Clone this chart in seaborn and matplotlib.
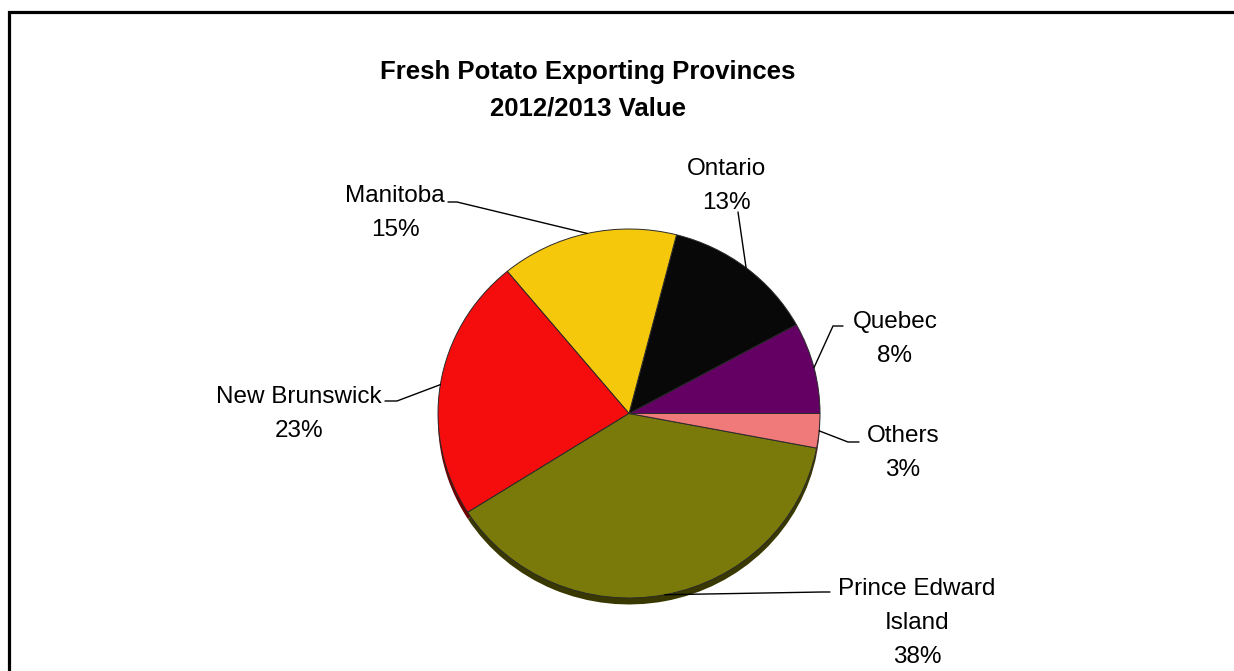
import numpy as np
import matplotlib
matplotlib.use("Agg")
import matplotlib.pyplot as plt
from matplotlib.lines import Line2D
from matplotlib.patches import Rectangle
import seaborn as sns

# ---- data ----
provinces = ["Quebec", "Ontario", "Manitoba", "New Brunswick", "Prince Edward Island", "Others"]
label_lines = [["Quebec"], ["Ontario"], ["Manitoba"], ["New Brunswick"], ["Prince Edward", "Island"], ["Others"]]
shares = [8, 13, 15, 23, 38, 3]
colors = ["#640064", "#080808", "#F5C80C", "#F50C0C", "#7A7A0A", "#F07A7A"]
shadow_colors = ["#300030", "#000000", "#6a5500", "#6a0000", "#383800", "#6a3030"]
title_lines = ["Fresh Potato Exporting Provinces", "2012/2013 Value"]

sns.set_theme(style="white")
plt.rcParams["font.family"] = ["Liberation Sans", "DejaVu Sans"]

W, H = 1234, 671
fig = plt.figure(figsize=(W / 100, H / 100), dpi=100)
fig.patch.set_facecolor("white")

def fx(x):
    return x / W

def fy(y):
    return 1 - y / H

# pie axes placed in pixel layout
left, right, top, bottom = 438, 820, 229, 598
ax = fig.add_axes([fx(left), fy(bottom), (right - left) / W, (bottom - top) / H])

# shadow layer
sh_wedges, _ = ax.pie(shares, colors=shadow_colors, startangle=0, counterclock=True,
                      center=(0, -0.035), radius=1.0,
                      wedgeprops=dict(linewidth=0))
for w in sh_wedges:
    w.set_clip_on(False)
    w.set_zorder(1)

wedges, _ = ax.pie(shares, colors=colors, startangle=0, counterclock=True,
                   radius=1.0,
                   wedgeprops=dict(edgecolor="#2a2a2a", linewidth=0.7))
for w in wedges:
    w.set_clip_on(False)
    w.set_zorder(2)

ax.set_aspect("auto")
ax.set_xlim(-1, 1)
ax.set_ylim(-1, 1)
ax.axis("off")

# title
fig.text(fx(588), fy(79), title_lines[0], ha="center", va="baseline",
         fontsize=18.5, fontweight="bold", color="black")
fig.text(fx(588), fy(115), title_lines[1], ha="center", va="baseline",
         fontsize=18.5, fontweight="bold", color="black")

# label layout: (center x, first baseline y, leader path start points in image px)
layout = {
    "Quebec": (895, 328, [(843, 326), (833, 326)]),
    "Ontario": (726, 175, [(738, 212)]),
    "Manitoba": (395, 202, [(448, 202), (457, 202)]),
    "New Brunswick": (299, 403, [(385, 401), (397, 401)]),
    "Prince Edward Island": (917, 595, [(830, 592), (822, 592)]),
    "Others": (903, 442, [(859, 442), (848, 442)]),
}
line_gap = 34

for name, lines, share, w in zip(provinces, label_lines, shares, wedges):
    cx, by, path = layout[name]
    texts = lines + [f"{share}%"]
    for i, t in enumerate(texts):
        fig.text(fx(cx), fy(by + i * line_gap), t, ha="center", va="baseline",
                 fontsize=17.5, color="black")
    mid = np.deg2rad((w.theta1 + w.theta2) / 2)
    px, py = ax.transData.transform((np.cos(mid), np.sin(mid)))
    pts = path + [(px, H - py)]
    fig.add_artist(Line2D([fx(p[0]) for p in pts], [fy(p[1]) for p in pts],
                          transform=fig.transFigure, color="black", linewidth=1.0,
                          zorder=5))

# outer frame (clipped at right/bottom)
fig.add_artist(Rectangle((fx(9), fy(H + 20)), (W + 20) / W, (H + 20 - 12) / H,
                         transform=fig.transFigure, fill=False, edgecolor="black",
                         linewidth=2.3, clip_on=False))

fig.savefig("out.png", dpi=100)
